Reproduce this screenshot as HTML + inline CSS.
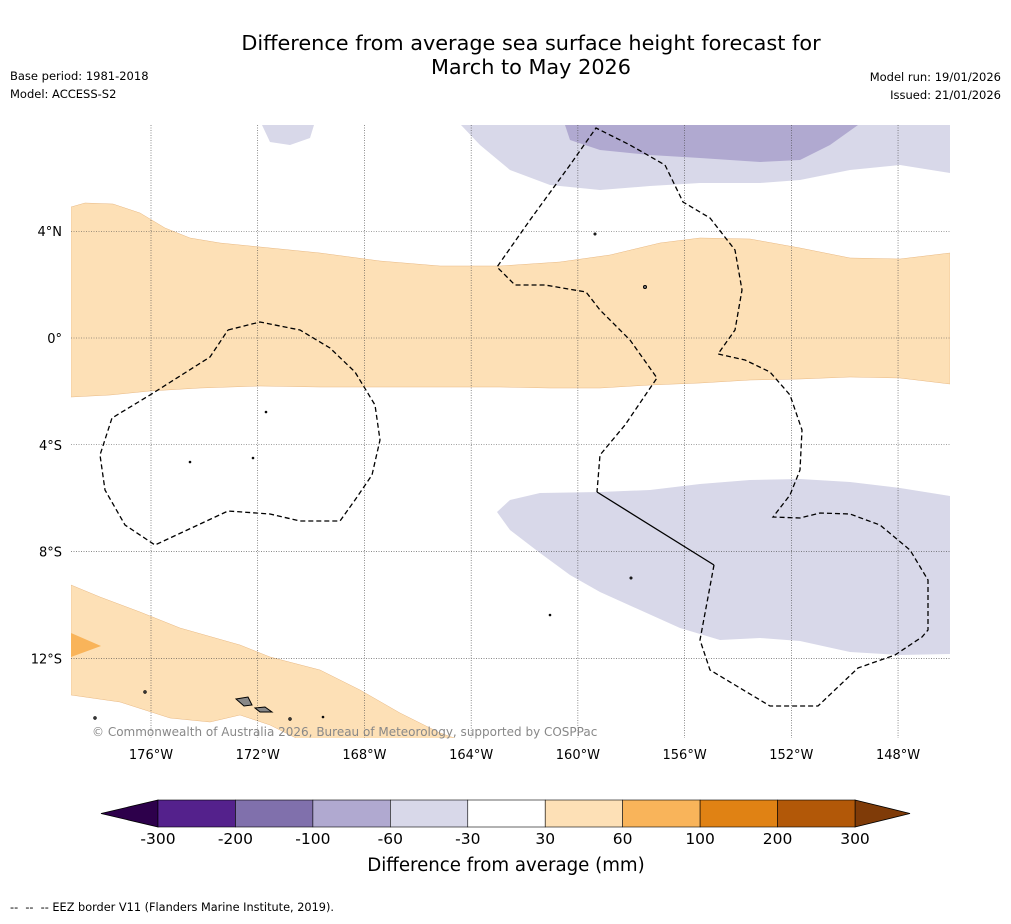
<!DOCTYPE html>
<html><head><meta charset="utf-8"><style>
body{margin:0;background:#fff;font-family:"Liberation Sans","DejaVu Sans",sans-serif}
svg text{font-family:"DejaVu Sans","Liberation Sans",sans-serif}
</style></head><body>
<svg id="c" width="1011" height="919" viewBox="0 0 1011 919" xmlns="http://www.w3.org/2000/svg">
<rect width="1011" height="919" fill="#fff"/>
<text x="531" y="50" font-size="20.8" text-anchor="middle">Difference from average sea surface height forecast for</text>
<text x="531" y="74" font-size="20.8" text-anchor="middle">March to May 2026</text>
<text x="10" y="80" font-size="11.5">Base period: 1981-2018</text>
<text x="10" y="98" font-size="11.5">Model: ACCESS-S2</text>
<text x="1001" y="81" font-size="11.5" text-anchor="end">Model run: 19/01/2026</text>
<text x="1001" y="99" font-size="11.5" text-anchor="end">Issued: 21/01/2026</text>
<g>
<clipPath id="mc"><rect x="71" y="125" width="879" height="613"/></clipPath>
<g clip-path="url(#mc)">
<path fill="#fde0b6" stroke="#e8b883" stroke-width="0.5" d="M71,207 L85,203 113,204 140,213 165,228 190,238 220,243 260,247 320,253 380,261 440,266 500,266 560,262 610,255 660,243 700,238 750,239 800,248 850,258 900,259 950,253 950,384 900,378 850,377 800,379 750,380 700,383 650,385 600,388 550,388 500,387 440,387 380,387 320,387 260,386 200,388 150,391 110,395 71,397Z"/>
<path fill="#d8d8e9" d="M497,512 L510,500 540,493 600,492 650,490 700,484 750,480 800,479 850,482 900,488 950,496 950,654 900,655 850,652 800,641 760,638 720,640 680,628 640,610 600,592 570,575 540,553 510,530Z"/>
<path fill="#d8d8e9" d="M461,125 L480,145 510,170 550,185 600,190 650,186 700,183 760,183 800,180 850,170 900,165 950,173 950,125Z M262,125 L314,125 310,138 290,145 270,142Z"/>
<path fill="#b0a9d0" d="M565,125 L570,140 600,150 650,155 700,158 760,162 800,160 830,145 858,125Z"/>
<path fill="#fde0b6" stroke="#e8b883" stroke-width="0.5" d="M71,585 L100,597 140,612 180,628 240,645 270,657 320,670 360,690 400,713 440,733 460,740 300,740 270,725 240,715 210,722 170,718 120,702 71,695Z"/>
<path fill="#f9b45a" d="M71,633 L101,646 71,657Z"/>
<g id="grid" stroke="#444" stroke-width="0.6" stroke-dasharray="1,1.5"></g>
<path fill="none" stroke="#000" stroke-width="1.3" stroke-dasharray="5,3" d="M228,330 L260,322 300,330 330,348 355,372 375,405 380,440 372,475 355,500 340,521 300,521 270,514 228,511 155,545 125,525 105,490 100,455 112,418 150,395 210,357 228,330"/>
<path fill="none" stroke="#000" stroke-width="1.3" stroke-dasharray="5,3" d="M714,565 L700,640 710,670 735,685 770,706 818,706 858,668 895,655 922,637 928,630 928,580 910,550 880,525 850,514 820,513 800,518 773,517 790,495 800,470 802,430 790,395 770,372 745,360 718,354 735,330 742,290 735,250 710,218 683,202 665,165 630,145 596,128 570,165 530,220 497,267 515,285 545,285 586,292 600,310 630,340 657,378 625,425 600,455 597,492"/>
<path fill="none" stroke="#000" stroke-width="1.3" d="M597,492 L714,565"/>
<g fill="#888" stroke="#000" stroke-width="1">
<path d="M236,699 L248,697 252,705 244,706Z"/><path d="M255,708 L265,707 272,712 260,712Z"/>
<circle cx="645" cy="287" r="1.5"/><circle cx="595" cy="234" r="1"/><circle cx="145" cy="692" r="1.2"/><circle cx="266" cy="412" r="0.8"/><circle cx="190" cy="462" r="0.8"/><circle cx="253" cy="458" r="0.8"/><circle cx="631" cy="578" r="1"/><circle cx="550" cy="615" r="0.8"/><circle cx="95" cy="718" r="1.2"/><circle cx="290" cy="719" r="1.2"/><circle cx="323" cy="717" r="0.8"/>
</g>
</g>
<text x="92" y="736" font-size="12" fill="#888">© Commonwealth of Australia 2026, Bureau of Meteorology, supported by COSPPac</text>
<g id="axes"></g>
</g>
<g id="cbar"></g>
<text x="506" y="871" font-size="18.2" text-anchor="middle">Difference from average (mm)</text>
<text x="10" y="911" font-size="11.3" xml:space="preserve">--  --  -- EEZ border V11 (Flanders Marine Institute, 2019).</text>
</svg>
<script>
const lonTicks=[-176,-172,-168,-164,-160,-156,-152,-148];
const latTicks=[4,0,-4,-8,-12];
const cbLevels=[-300,-200,-100,-60,-30,30,60,100,200,300];
const cbColors=["#54218c","#8070ac","#b0a9d0","#d8d8e9","#ffffff","#fde0b6","#f9b45a","#e08214","#b25808"];
const cbUnder="#2d004b", cbOver="#7f3b08";
const NS="http://www.w3.org/2000/svg";
const X=lon=>151+(lon+176)*26.68, Y=lat=>338-lat*26.69;
function mk(t,a,p){const e=document.createElementNS(NS,t);for(const k in a)e.setAttribute(k,a[k]);p.appendChild(e);return e;}
const grid=document.getElementById('grid'), axes=document.getElementById('axes');
lonTicks.forEach(l=>{const x=X(l);
 const g=mk('line',{x1:x,x2:x,y1:125,y2:738},grid);
 
 
 const t=mk('text',{x:x,y:759,'font-size':13,'text-anchor':'middle'},axes);
 t.textContent=Math.abs(l)+'°W';
 
 });
latTicks.forEach(l=>{const y=Y(l);
 const g=mk('line',{x1:71,x2:950,y1:y,y2:y},grid);
 
 
 const t=mk('text',{x:62,y:y+5,'font-size':13,'text-anchor':'end'},axes);
 t.textContent=l===0?'0°':Math.abs(l)+'°'+(l>0?'N':'S');
 
 });
const cb=document.getElementById('cbar');
const x0=158,x1=855,y0=800,h=27,w=(x1-x0)/cbColors.length;
let p=mk('path',{d:`M${x0},${y0} L101,${y0+h/2} L${x0},${y0+h}Z`,fill:cbUnder,stroke:'#000','stroke-width':0.8},cb);


p=mk('path',{d:`M${x1},${y0} L910,${y0+h/2} L${x1},${y0+h}Z`,fill:cbOver,stroke:'#000','stroke-width':0.8},cb);


cbColors.forEach((c,i)=>{const r=mk('rect',{x:x0+i*w,y:y0,width:w,height:h,fill:c,stroke:'#000','stroke-width':0.6},cb);
 
 });
cbLevels.forEach((v,i)=>{const t=mk('text',{x:x0+i*w,y:844,'font-size':15.5,'text-anchor':'middle'},cb);
 t.textContent=v;
 
 });
</script>
</body></html>
